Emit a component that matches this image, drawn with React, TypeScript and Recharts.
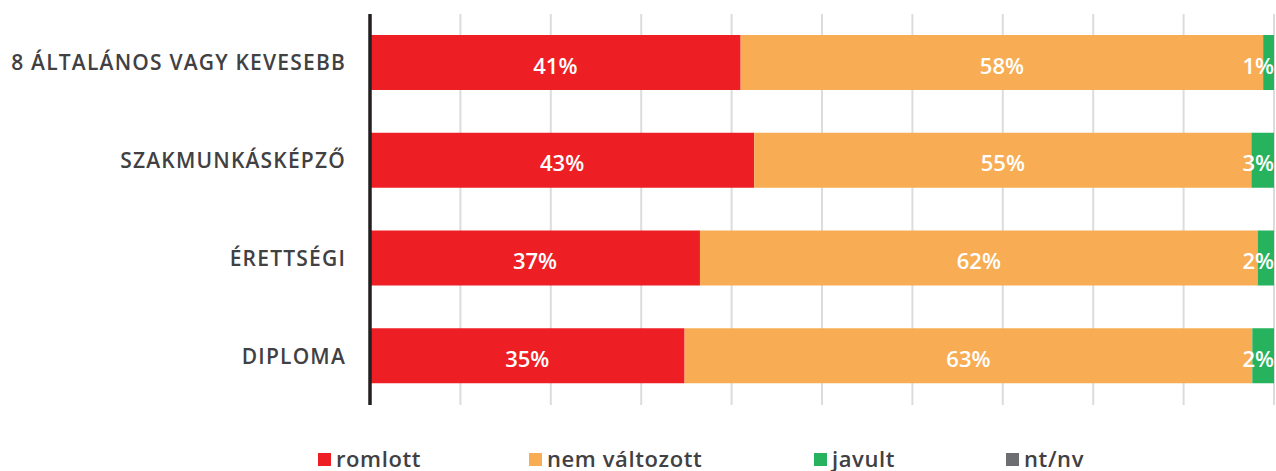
import {
  BarChart,
  Bar,
  XAxis,
  YAxis,
  CartesianGrid,
  Legend,
  LabelList,
} from "recharts";

const categories = [
  "8 ÁLTALÁNOS VAGY KEVESEBB",
  "SZAKMUNKÁSKÉPZŐ",
  "ÉRETTSÉGI",
  "DIPLOMA",
];
const romlott = [41.0, 42.5, 36.5, 34.8];
const nemValtozott = [57.8, 55.0, 61.7, 62.8];
const javult = [1.2, 2.5, 1.8, 2.4];
const ntNv = [0, 0, 0, 0];
const xTicks = [0, 10, 20, 30, 40, 50, 60, 70, 80, 90, 100];
const legendOrder = ["romlott", "nem változott", "javult", "nt/nv"];

const FONT = "'Open Sans', sans-serif";
const TEXT = "#414042";

const data = categories.map((name, i) => ({
  name,
  romlott: romlott[i],
  nem: nemValtozott[i],
  javult: javult[i],
  ntnv: ntNv[i],
}));

// white percentage label centred in its segment
const centerLabel = (props: any) => {
  const { x, y, width, height, value } = props;
  return (
    <text
      x={Number(x) + Number(width) / 2}
      y={Number(y) + Number(height) / 2 + 2}
      fill="#fff"
      textAnchor="middle"
      dominantBaseline="central"
      fontSize={22}
      fontWeight={600}
      fontFamily={FONT}
    >
      {Math.round(value)}%
    </text>
  );
};

// small segments: label hugs the right end of the bar
const endLabel = (props: any) => {
  const { x, y, width, height, value } = props;
  return (
    <text
      x={Number(x) + Number(width)}
      y={Number(y) + Number(height) / 2 + 2}
      fill="#fff"
      textAnchor="end"
      dominantBaseline="central"
      fontSize={22}
      fontWeight={600}
      fontFamily={FONT}
    >
      {Math.round(value)}%
    </text>
  );
};

const legendLefts = [318, 529, 814, 1006];

const renderLegend = (props: any) => {
  const { payload = [] } = props;
  const items = legendOrder
    .map((name) => payload.find((p: any) => p.value === name))
    .filter(Boolean);
  return (
    <div style={{ position: "relative", height: 20 }}>
      {items.map((entry: any, i: number) => (
        <div
          key={entry.value}
          style={{
            position: "absolute",
            left: legendLefts[i],
            top: 0,
            height: 20,
            lineHeight: "20px",
            display: "flex",
            alignItems: "center",
            fontFamily: FONT,
            fontSize: 22,
            fontWeight: 600,
            letterSpacing: 0.6,
            color: TEXT,
            whiteSpace: "nowrap",
          }}
        >
          <span
            style={{
              display: "inline-block",
              width: 13,
              height: 13,
              background: entry.color,
              marginRight: 5,
              marginTop: 3,
            }}
          />
          <span>{entry.value}</span>
        </div>
      ))}
    </div>
  );
};

export default function App() {
  return (
    <div style={{ position: "absolute", left: 0, top: 0, width: 1276, height: 471, background: "#fff" }}>
      <BarChart
        width={1276}
        height={471}
        data={data}
        layout="vertical"
        barCategoryGap={0}
        margin={{ top: 14, right: 2, bottom: 46, left: 0 }}
      >
        <CartesianGrid horizontal={false} stroke="#dcdcdc" strokeWidth={2} />
        <XAxis type="number" domain={[0, 100]} ticks={xTicks} hide />
        <YAxis
          type="category"
          dataKey="name"
          width={370}
          tickSize={0}
          tickMargin={24}
          axisLine={{ stroke: "#231f20", strokeWidth: 3.5 }}
          tickLine={false}
          tick={{ fill: TEXT, fontSize: 21, fontWeight: 600, fontFamily: FONT, letterSpacing: 1.2 }}
        />
        <Legend
          content={renderLegend}
          wrapperStyle={{ position: "absolute", top: 448, left: 0, width: 1276, height: 20 }}
        />
        <Bar dataKey="romlott" name="romlott" stackId="a" fill="#ed1f24" barSize={55} isAnimationActive={false}>
          <LabelList dataKey="romlott" content={centerLabel} />
        </Bar>
        <Bar dataKey="nem" name="nem változott" stackId="a" fill="#f8ad55" barSize={55} isAnimationActive={false}>
          <LabelList dataKey="nem" content={centerLabel} />
        </Bar>
        <Bar dataKey="javult" name="javult" stackId="a" fill="#27b35d" barSize={55} isAnimationActive={false}>
          <LabelList dataKey="javult" content={endLabel} />
        </Bar>
        <Bar dataKey="ntnv" name="nt/nv" stackId="a" fill="#6d6e71" barSize={55} isAnimationActive={false} />
      </BarChart>
    </div>
  );
}
